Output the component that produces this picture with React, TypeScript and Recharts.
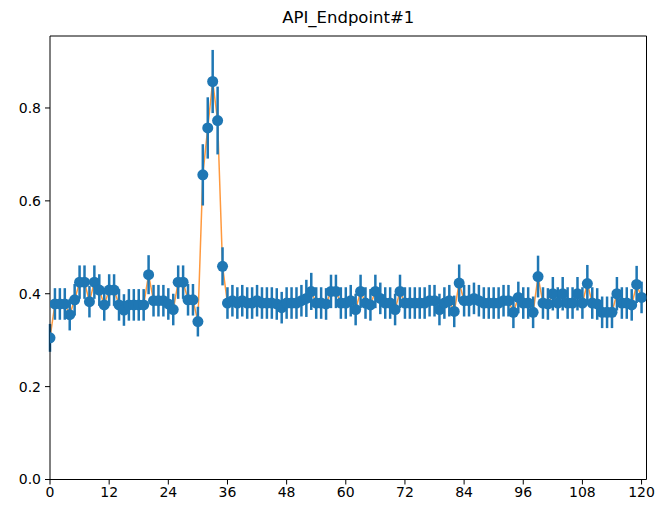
import {
  ComposedChart,
  Line,
  Scatter,
  ErrorBar,
  XAxis,
  YAxis,
  ReferenceLine,
} from "recharts";

// mean latency per sample (index = sample number)
const values = [
  0.305, 0.378, 0.378, 0.378, 0.355, 0.387, 0.425, 0.425, 0.383, 0.425,
  0.408, 0.376, 0.408, 0.408, 0.376, 0.365, 0.376, 0.376, 0.376, 0.376,
  0.441, 0.385, 0.385, 0.385, 0.378, 0.366, 0.425, 0.425, 0.387, 0.387,
  0.34, 0.656, 0.757, 0.857, 0.773, 0.459, 0.38, 0.385, 0.38, 0.385,
  0.38, 0.38, 0.385, 0.38, 0.38, 0.38, 0.378, 0.37, 0.38, 0.38,
  0.38, 0.385, 0.39, 0.405, 0.38, 0.38, 0.378, 0.405, 0.405, 0.38,
  0.38, 0.385, 0.366, 0.405, 0.38, 0.376, 0.405, 0.39, 0.38, 0.38,
  0.366, 0.405, 0.38, 0.38, 0.38, 0.38, 0.38, 0.385, 0.385, 0.366,
  0.38, 0.385, 0.362, 0.423, 0.385, 0.385, 0.39, 0.385, 0.38, 0.38,
  0.38, 0.38, 0.385, 0.385, 0.36, 0.392, 0.38, 0.38, 0.36, 0.437,
  0.38, 0.378, 0.4, 0.38, 0.4, 0.38, 0.38, 0.4, 0.38, 0.422,
  0.38, 0.378, 0.36, 0.36, 0.36, 0.4, 0.38, 0.38, 0.376, 0.42,
  0.392,
];

// half-width of the error bar for each sample
const errors = [
  0.03, 0.034, 0.034, 0.034, 0.034, 0.034, 0.036, 0.036, 0.034, 0.036,
  0.034, 0.034, 0.034, 0.034, 0.034, 0.034, 0.034, 0.034, 0.034, 0.034,
  0.042, 0.034, 0.034, 0.034, 0.034, 0.034, 0.036, 0.036, 0.034, 0.034,
  0.032, 0.066, 0.066, 0.068, 0.073, 0.041, 0.034, 0.034, 0.034, 0.034,
  0.034, 0.034, 0.034, 0.034, 0.034, 0.034, 0.034, 0.034, 0.034, 0.034,
  0.034, 0.034, 0.04, 0.04, 0.034, 0.034, 0.034, 0.036, 0.036, 0.034,
  0.034, 0.034, 0.034, 0.036, 0.034, 0.034, 0.036, 0.034, 0.034, 0.034,
  0.034, 0.036, 0.034, 0.034, 0.034, 0.034, 0.034, 0.034, 0.034, 0.034,
  0.034, 0.034, 0.034, 0.04, 0.034, 0.034, 0.034, 0.034, 0.034, 0.034,
  0.034, 0.034, 0.034, 0.034, 0.034, 0.034, 0.034, 0.034, 0.034, 0.045,
  0.034, 0.034, 0.036, 0.034, 0.036, 0.034, 0.034, 0.036, 0.034, 0.04,
  0.034, 0.034, 0.034, 0.034, 0.034, 0.036, 0.034, 0.034, 0.034, 0.04,
  0.034,
];

const xTicks = [0, 12, 24, 36, 48, 60, 72, 84, 96, 108, 120];
const yTicks = [0, 0.2, 0.4, 0.6, 0.8];

const BLUE = "#1f77b4";
const ORANGE = "#ff7f0e";
const FONT = "'DejaVu Sans', sans-serif";

const data = values.map((v, i) => ({ x: i, y: v, err: errors[i] }));

const X_MAX = 121;
const Y_MAX = 0.955;

function Dot(props: { cx?: number; cy?: number }) {
  const { cx, cy } = props;
  if (cx == null || cy == null) return null;
  return <circle cx={cx} cy={cy} r={5.5} fill={BLUE} />;
}

export default function App() {
  return (
    <div style={{ position: "relative", width: 658, height: 514, background: "#fff" }}>
      <style>{`body{margin:0}`}</style>
      <div
        style={{
          position: "absolute",
          left: 50,
          width: 596.5,
          top: 7,
          textAlign: "center",
          fontFamily: FONT,
          fontSize: 16.5,
          color: "#000",
          lineHeight: "22px",
        }}
      >
        API_Endpoint#1
      </div>
      <ComposedChart
        width={658}
        height={514}
        data={data}
        margin={{ top: 36, right: 11.5, left: 0, bottom: 0 }}
      >
        <XAxis
          dataKey="x"
          type="number"
          domain={[0, X_MAX]}
          ticks={xTicks}
          allowDataOverflow
          height={34.5}
          tickSize={5}
          tickMargin={3}
          stroke="#000"
          tick={{ fill: "#000", fontSize: 14, fontFamily: FONT }}
        />
        <YAxis
          type="number"
          domain={[0, Y_MAX]}
          ticks={yTicks}
          allowDataOverflow
          width={50}
          tickSize={5}
          tickMargin={4}
          stroke="#000"
          tickFormatter={(v: number) => v.toFixed(1)}
          tick={{ fill: "#000", fontSize: 14, fontFamily: FONT }}
        />
        <ReferenceLine y={Y_MAX} stroke="#000" />
        <ReferenceLine x={X_MAX} stroke="#000" />
        <Line
          dataKey="y"
          stroke={ORANGE}
          strokeOpacity={0.8}
          strokeWidth={1.5}
          dot={false}
          activeDot={false}
          isAnimationActive={false}
        />
        <Scatter dataKey="y" fill={BLUE} shape={<Dot />} isAnimationActive={false}>
          <ErrorBar
            dataKey="err"
            direction="y"
            width={0}
            stroke={BLUE}
            strokeWidth={2.5}
          />
        </Scatter>
      </ComposedChart>
    </div>
  );
}
